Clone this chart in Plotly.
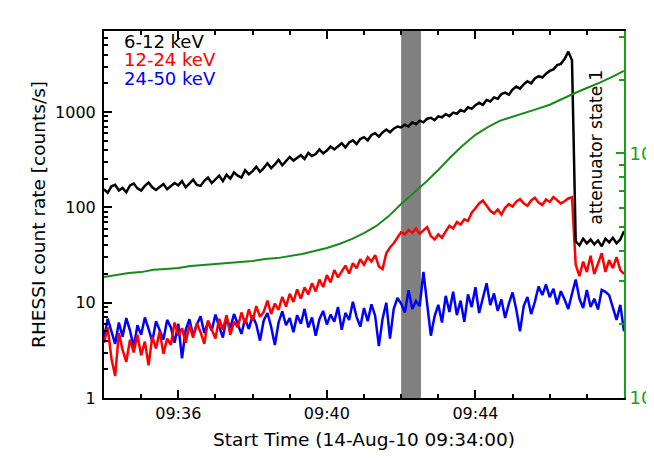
import pandas as pd
import plotly.graph_objects as go

# ---------------- data ----------------
start = "2010-08-14 09:34:00"
rhessi_step_s = 6
goes_step_s = 20

lo_6_12 = [155, 142, 166, 172, 150, 160, 144, 170, 178, 158,
           150, 168, 182, 162, 152, 164, 176, 155, 168, 180,
           170, 188, 162, 176, 195, 172, 168, 190, 205, 180,
           196, 215, 188, 220, 200, 232, 215, 205, 245, 222,
           240, 266, 236, 258, 290, 258, 282, 315, 276, 305,
           338, 310, 330, 352, 322, 372, 345, 362, 405, 368,
           395, 436, 405, 440, 470, 425, 480, 505, 462, 520,
           545, 505, 575, 600, 552, 610, 655, 612, 668, 705,
           690, 735, 705, 780, 745, 812, 780, 850, 870, 820,
           900, 880, 950, 905, 985, 960, 1050, 1010, 1120, 1080,
           1180, 1250, 1190, 1340, 1290, 1420, 1380, 1540, 1600, 1520,
           1720, 1850, 1760, 1950, 2100, 2000, 2250, 2380, 2300, 2520,
           2700, 2800, 3100, 3200, 3600, 4300, 3500, 44, 40, 47,
           42, 46, 41, 45, 39, 47, 43, 48, 42, 46,
           56]

mid_12_24 = [3.8, 5.5, 2.6, 1.7, 4.8, 3.2, 2.4, 4.1, 3.0, 4.6,
             2.8, 3.9, 2.2, 4.4, 3.3, 5.0, 2.9, 4.2, 3.6, 6.2,
             4.5, 5.4, 3.8, 5.8, 4.3, 6.1, 4.9, 3.7, 6.5, 5.1,
             4.2, 6.8, 5.2, 7.4, 4.6, 6.3, 5.5, 7.9, 6.0, 8.5,
             6.4, 9.2, 7.1, 8.0, 10.5, 7.6, 9.8, 8.4, 11.5, 9.1,
             12.4, 10.2, 13.8, 11.0, 14.5, 12.2, 16.0, 13.1, 17.5, 14.6,
             19.5, 16.3, 22.0, 18.4, 21.0, 24.5, 20.2, 26.0, 23.0, 28.5,
             25.0, 30.0, 27.0, 31.5, 24.0, 22.5, 33.0, 38.0, 42.0, 48.0,
             55.0, 52.0, 58.0, 54.0, 60.0, 53.0, 57.0, 62.0, 50.0, 46.0,
             52.0, 48.0, 56.0, 64.0, 60.0, 70.0, 66.0, 75.0, 72.0, 88.0,
             98.0, 110.0, 118.0, 105.0, 92.0, 86.0, 95.0, 84.0, 99.0, 108.0,
             102.0, 115.0, 122.0, 110.0, 104.0, 118.0, 126.0, 112.0, 106.0, 121.0,
             114.0, 128.0, 118.0, 110.0, 116.0, 124.0, 128.0, 25.0, 19.0, 27.0,
             21.0, 31.0, 20.0, 26.0, 33.0, 21.0, 28.0, 23.0, 30.0, 22.0,
             20.0]

hi_24_50 = [4.2, 6.8, 5.0, 3.7, 6.2, 4.4, 6.9, 5.1, 3.4, 5.8,
            4.6, 7.0, 5.3, 3.9, 6.4, 5.0, 4.1, 6.6, 5.5, 3.8,
            6.0, 2.6, 5.2, 6.7, 4.5, 5.9, 7.2, 4.8, 6.3, 5.1,
            7.5, 5.6, 4.3, 6.9, 5.4, 7.6, 6.1, 4.7, 6.8, 5.3,
            7.3, 5.9, 4.0, 6.5, 7.8, 5.6, 3.6, 6.2, 8.1, 5.8,
            6.9, 4.9, 7.4, 6.0, 8.6, 5.5, 7.0, 4.5, 6.7, 8.2,
            5.9, 7.5, 6.3, 9.0, 5.2, 7.8, 6.6, 10.2, 7.1, 5.6,
            8.8, 6.4, 9.6, 7.3, 3.5, 6.8, 10.0, 4.2, 8.6, 11.2,
            9.8, 7.9, 13.5, 8.6, 10.4, 9.2, 21.0, 9.0, 4.5, 7.2,
            9.5, 6.2, 11.8, 8.0, 13.0, 7.4, 10.5, 6.3, 12.2, 9.0,
            14.5, 7.8, 11.0, 16.0, 9.4, 12.5, 8.2, 10.8, 6.9, 9.8,
            12.8, 8.5, 5.0, 9.2, 11.5, 7.6, 10.2, 14.8, 12.0, 15.5,
            11.4, 14.0, 9.6, 13.2, 10.8, 8.6, 12.4, 17.5, 11.0, 8.8,
            13.6, 9.0, 11.0, 8.5, 13.6, 13.0, 12.0, 9.0, 6.6, 9.5,
            5.0]

goes_flux = [3.12e-8, 3.18e-8, 3.24e-8, 3.27e-8, 3.34e-8, 3.37e-8, 3.40e-8, 3.46e-8,
             3.50e-8, 3.53e-8, 3.56e-8, 3.60e-8, 3.63e-8, 3.70e-8, 3.73e-8, 3.80e-8,
             3.88e-8, 3.99e-8, 4.10e-8, 4.26e-8, 4.46e-8, 4.72e-8, 5.05e-8, 5.54e-8,
             6.21e-8, 6.88e-8, 7.63e-8, 8.55e-8, 9.66e-8, 1.08e-7, 1.19e-7, 1.28e-7,
             1.36e-7, 1.41e-7, 1.46e-7, 1.52e-7, 1.58e-7, 1.67e-7, 1.76e-7, 1.85e-7,
             1.94e-7, 2.05e-7, 2.17e-7]

band_start = "2010-08-14 09:42:00"
band_end = "2010-08-14 09:42:32"

x_start = "2010-08-14 09:34:00"
x_end = "2010-08-14 09:48:00"
x_tick_vals = ["2010-08-14 09:36:00", "2010-08-14 09:40:00", "2010-08-14 09:44:00"]
x_tick_text = ["09:36", "09:40", "09:44"]
y_tick_vals = [1, 10, 100, 1000]
y_tick_text = ["1", "10", "100", "1000"]
y2_tick_vals = [1e-8, 1e-7]
y2_tick_text = ["10<sup>-8</sup>", "10<sup>-7</sup>"]

labels = ["6-12 keV", "12-24 keV", "24-50 keV"]
# --------------------------------------

t_rhessi = pd.date_range(start, periods=len(lo_6_12), freq=f"{rhessi_step_s}s")
t_goes = pd.date_range(start, periods=len(goes_flux), freq=f"{goes_step_s}s")

left_minor = [m * 10 ** d for d in range(0, 4) for m in range(2, 10)]
right_minor = [m * 10 ** d for d in (-8, -7) for m in range(2, 10)]
x_minor = list(pd.date_range(x_start, x_end, freq="60s"))

FONT = "DejaVu Sans"
GREEN_LINE = "#1a8a1a"
GREEN_AX = "#18a018"

fig = go.Figure()
fig.add_trace(go.Scatter(x=t_goes, y=goes_flux, mode="lines", yaxis="y2",
                         line=dict(color=GREEN_LINE, width=2), showlegend=False))
fig.add_trace(go.Scatter(x=t_rhessi, y=hi_24_50, mode="lines",
                         line=dict(color="#0000ff", width=2.5), showlegend=False))
fig.add_trace(go.Scatter(x=t_rhessi, y=mid_12_24, mode="lines",
                         line=dict(color="#ff0000", width=2.5), showlegend=False))
fig.add_trace(go.Scatter(x=t_rhessi, y=lo_6_12, mode="lines",
                         line=dict(color="#000000", width=2.5), showlegend=False))

fig.add_shape(type="rect", xref="x", yref="paper", x0=band_start, x1=band_end,
              y0=0, y1=1, fillcolor="#808080", line=dict(width=0), layer="below")

# the page body has an 8 px default margin, so the figure is 8 px smaller
fig.update_layout(
    width=646, height=459,
    margin=dict(l=96, r=30, t=23, b=69, autoexpand=False),
    paper_bgcolor="white", plot_bgcolor="white",
    font=dict(family=FONT, size=16, color="black"),
    xaxis=dict(
        type="date", range=[x_start, x_end], automargin=False,
        tickmode="array", tickvals=x_tick_vals, ticktext=x_tick_text,
        ticks="inside", ticklen=8, tickwidth=1.5, tickcolor="black",
        minor=dict(tickmode="array", tickvals=x_minor, ticks="inside",
                   ticklen=4, tickwidth=1.5, tickcolor="black"),
        showline=True, linecolor="black", linewidth=2, mirror="ticks",
        showgrid=False, zeroline=False,
        title=dict(text="Start Time (14-Aug-10 09:34:00)", standoff=11,
                   font=dict(size=18.5)),
        tickfont=dict(size=16),
    ),
    yaxis=dict(
        type="log", range=[0, 3.85], automargin=False,
        tickmode="array", tickvals=y_tick_vals, ticktext=y_tick_text,
        ticks="inside", ticklen=8, tickwidth=1.5, tickcolor="black",
        ticklabelstandoff=3,
        minor=dict(tickmode="array", tickvals=left_minor, ticks="inside",
                   ticklen=4, tickwidth=1.5, tickcolor="black"),
        showline=True, linecolor="black", linewidth=2,
        showgrid=False, zeroline=False,
        title=dict(text="RHESSI count rate [counts/s]", standoff=5,
                   font=dict(size=18.5)),
        tickfont=dict(size=16),
    ),
    yaxis2=dict(
        type="log", range=[-8, -6.5], overlaying="y", side="right",
        automargin=False,
        tickmode="array", tickvals=y2_tick_vals, ticktext=y2_tick_text,
        ticks="inside", ticklen=8, tickwidth=1.5, tickcolor=GREEN_AX,
        minor=dict(tickmode="array", tickvals=right_minor, ticks="inside",
                   ticklen=5, tickwidth=1.5, tickcolor=GREEN_AX),
        showline=True, linecolor=GREEN_AX, linewidth=2,
        showgrid=False, zeroline=False,
        tickfont=dict(size=18, color=GREEN_AX),
    ),
)

legend_colors = ["#000000", "#ff0000", "#0000ff"]
legend_y = [0.974, 0.924, 0.872]
for txt, col, yy in zip(labels, legend_colors, legend_y):
    fig.add_annotation(text=txt, xref="paper", yref="paper", x=0.0356, y=yy,
                       xanchor="left", yanchor="middle", showarrow=False,
                       height=18, valign="middle", borderpad=0,
                       font=dict(size=18, color=col, family=FONT))

fig.add_annotation(text="attenuator state 1", xref="paper", yref="paper",
                   x=0.946, y=0.685, textangle=-90, showarrow=False,
                   xanchor="center", yanchor="middle",
                   font=dict(size=17, color="black", family=FONT))

fig.write_html("out.html")
